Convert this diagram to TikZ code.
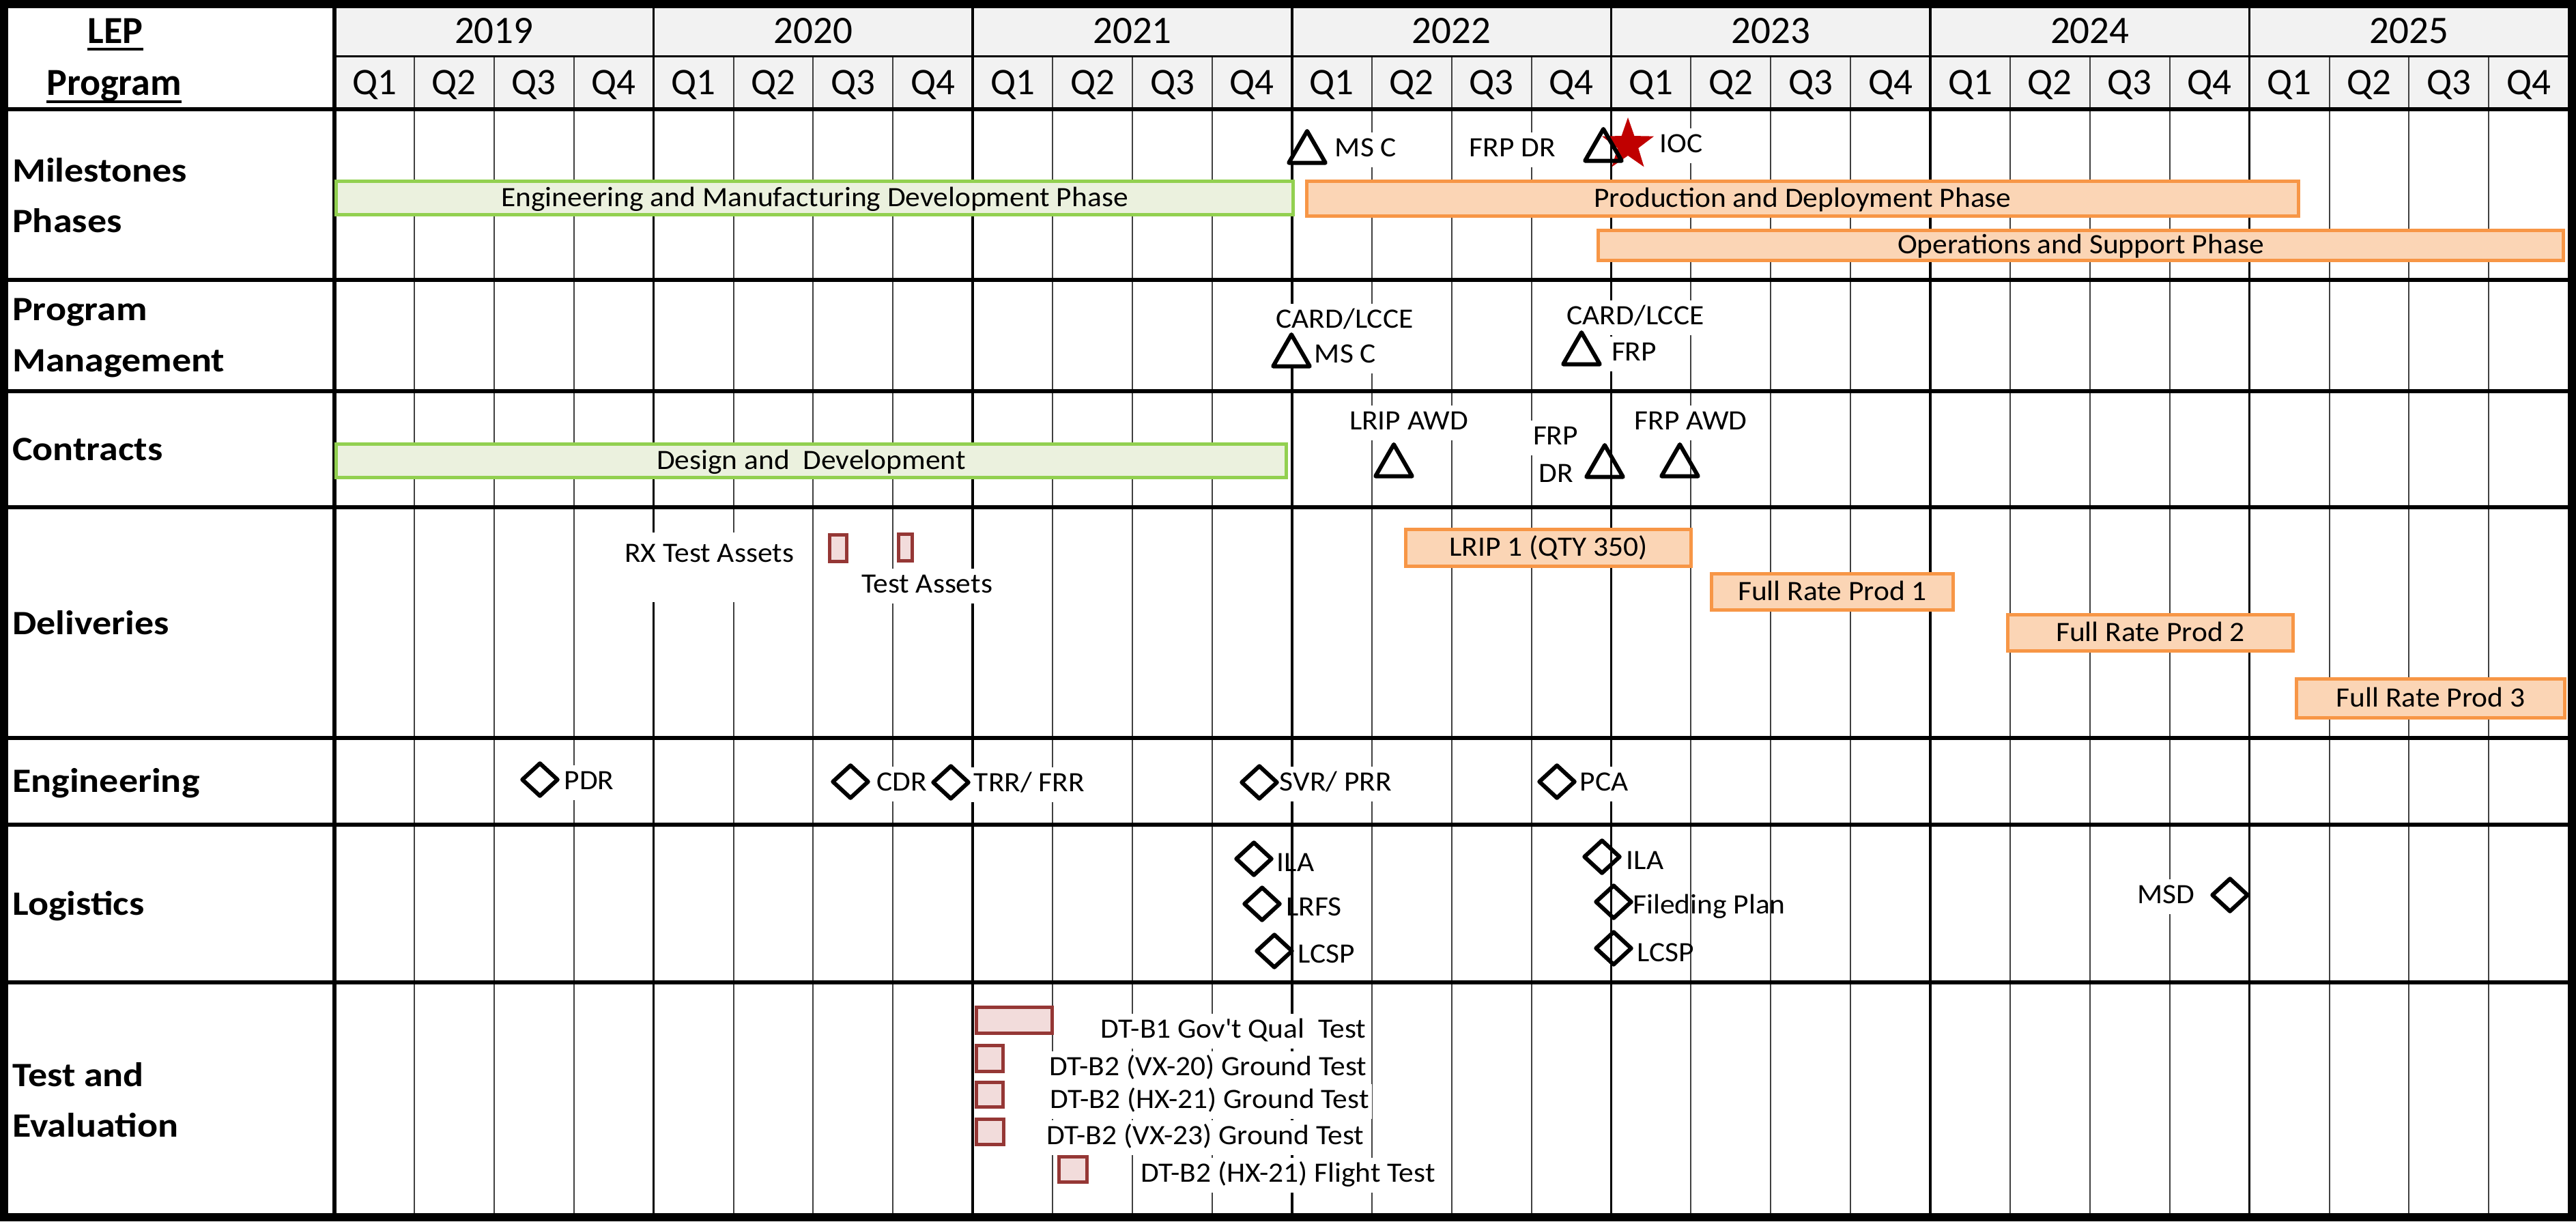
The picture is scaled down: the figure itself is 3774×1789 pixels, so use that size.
\documentclass[tikz,border=0pt]{standalone}
\usepackage{fontspec}
\setmainfont{Carlito}
\newfontfamily\lblfont{Carlito}[FakeStretch=1.06]
\newfontfamily\rowfont{Carlito}[FakeStretch=1.12]
\usetikzlibrary{shapes.geometric}
\definecolor{hdrgray}{HTML}{F2F2F2}
\definecolor{grnline}{HTML}{92D050}
\definecolor{grnfill}{HTML}{EBF1DE}
\definecolor{orgline}{HTML}{F79646}
\definecolor{orgfill}{HTML}{FBD5B5}
\definecolor{redline}{HTML}{953735}
\definecolor{redfill}{HTML}{F2DCDB}
\definecolor{starred}{HTML}{C00000}
\definecolor{qgray}{HTML}{404040}
\begin{document}
\begin{tikzpicture}[x=1pt,y=-1pt,
  lbl/.style={anchor=base, fill=white, inner xsep=4pt, inner ysep=6pt, text height=29pt, text depth=10pt, font=\lblfont\fontsize{41}{49}\selectfont},
  lbltr/.style={lbl, fill=none},
  barbox/.style={draw, line width=5pt, inner sep=0pt, text height=34pt, text depth=10pt, font=\lblfont\fontsize{41}{49}\selectfont},
  gbar/.style={barbox, draw=grnline, fill=grnfill},
  obar/.style={barbox, draw=orgline, fill=orgfill},
  rbox/.style={draw=redline, fill=redfill, line width=5pt, inner sep=0pt},
  tri/.style={regular polygon, regular polygon sides=3, draw, line width=6pt, minimum size=62pt, inner sep=0pt, line join=round},
  trif/.style={tri, fill=white},
  dia/.style={diamond, draw, line width=6pt, minimum width=54pt, minimum height=50pt, inner sep=0pt, line join=round},
  rowlbl/.style={anchor=base west, inner sep=0pt, font=\rowfont\bfseries\fontsize{50}{60}\selectfont},
  hdrlbl/.style={anchor=base, inner sep=0pt, font=\bfseries\fontsize{56}{60}\selectfont},
  yrlbl/.style={anchor=base, inner sep=0pt, font=\fontsize{57}{60}\selectfont},
  qlbl/.style={anchor=base, inner sep=0pt, font=\fontsize{55}{60}\selectfont},
  qline/.style={draw=qgray, line width=2pt},
  yline/.style={draw=black, line width=3.5pt},
  divline/.style={draw=black, line width=6pt},
]
\useasboundingbox (0,0) rectangle (3774,1789);
\fill[white] (0,0) rectangle (3774,1789);
% header fill
\fill[hdrgray] (490,12) rectangle (3763,157);
% grid
\foreach \q in {1,...,27} \draw[qline] ({490+\q*116.9},82) -- ({490+\q*116.9},1783);
\foreach \q in {4,8,...,24} \draw[yline] ({490+\q*116.9},12) -- ({490+\q*116.9},1783);
\draw[line width=3pt] (490,82) -- (3763,82);
\foreach \yy in {160,410,573,743,1081,1208,1439} \draw[divline] (6,\yy) -- (3768,\yy);
\draw[line width=6pt] (490,6) -- (490,1783);

% header texts
\node[hdrlbl] (lep) at (169,63) {LEP};
\node[hdrlbl] (prog) at (167,139) {Program};
\draw[line width=4pt] ([yshift=-9pt]lep.base west) -- ([yshift=-9pt]lep.base east);
\draw[line width=4pt] ([yshift=-10pt]prog.base west) -- ([yshift=-10pt]prog.base east);
\foreach \yr [count=\i from 0] in {2019,2020,2021,2022,2023,2024,2025}
  \node[yrlbl] (yr\yr) at ({490+(4*\i+2)*116.9},63) {\yr};
\foreach \q in {0,...,27}{
  \pgfmathtruncatemacro{\qn}{mod(\q,4)+1}
  \node[qlbl] (q\q) at ({490+(\q+0.5)*116.9},138) {Q\qn};
}

% row labels
\node[rowlbl] (r1a) at (18,266) {Milestones};
\node[rowlbl] (r1b) at (18,340) {Phases};
\node[rowlbl] (r2a) at (18,469) {Program};
\node[rowlbl] (r2b) at (18,544) {Management};
\node[rowlbl] (r3) at (18,674) {Contracts};
\node[rowlbl] (r4) at (18,929) {Deliveries};
\node[rowlbl] (r5) at (18,1160) {Engineering};
\node[rowlbl] (r6) at (18,1340) {Logistics};
\node[rowlbl] (r7a) at (18,1591) {Test and};
\node[rowlbl] (r7b) at (18,1665) {Evaluation};

% bars
\node[gbar, minimum width=1402pt, minimum height=49pt] (emd) at (1193.5,290) {Engineering and Manufacturing Development Phase};
\node[obar, minimum width=1453pt, minimum height=51pt] (pd) at (2641,291) {Production and Deployment Phase};
\node[obar, minimum width=1414pt, minimum height=44pt] (os) at (3048.5,359.5) {Operations and Support Phase};
\node[gbar, minimum width=1392pt, minimum height=49pt] (dd) at (1188.5,675) {Design and\ \ Development};
\node[obar, minimum width=418pt, minimum height=54pt] (lrip1) at (2268.5,802.5) {LRIP 1 (QTY 350)};
\node[obar, minimum width=354pt, minimum height=53pt] (frp1) at (2684.5,867) {Full Rate Prod 1};
\node[obar, minimum width=418pt, minimum height=53pt] (frp2) at (3150.5,927) {Full Rate Prod 2};
\node[obar, minimum width=393pt, minimum height=57pt] (frp3) at (3561,1023) {Full Rate Prod 3};

% labels
\node[lbl] (msc1) at (2001,229) {MS C};
\node[lbl] (frpdr1) at (2216,229) {FRP DR};
\node[lbl] (ioc) at (2463,223) {IOC};
\node[lbl] (card1) at (1970,480) {CARD/LCCE};
\node[lbl] (msc2) at (1971,531) {MS C};
\node[lbl] (card2) at (2396,475) {CARD/LCCE};
\node[lbl] (frpb) at (2394,528) {FRP};
\node[lbl] (lripawd) at (2064,629) {LRIP AWD};
\node[lbl] (frpdra) at (2279,651) {FRP};
\node[lbl] (frpdrb) at (2280,706) {DR};
\node[lbl] (frpawd) at (2477,629) {FRP AWD};
\node[lbl, text height=37pt, text depth=53pt] (rxta) at (1039,823) {RX Test Assets};
\node[lbl] (ta) at (1358,868) {Test Assets};
\node[lbl] (pdr) at (863,1156) {PDR};
\node[lbl] (cdr) at (1321,1158) {CDR};
\node[lbl] (trr) at (1508,1159) {TRR/ FRR};
\node[lbl] (svr) at (1957,1158) {SVR/ PRR};
\node[lbl] (pca) at (2350,1158) {PCA};
\node[lbltr] (ila1) at (1898,1276) {ILA};
\node[lbltr] (lrfs) at (1925,1341) {LRFS};
\node[lbltr] (lcsp1) at (1943,1410) {LCSP};
\node[lbltr] (ila2) at (2410,1273) {ILA};
\node[lbltr] (filed) at (2504,1338) {Fileding Plan};
\node[lbltr] (lcsp2) at (2440,1408) {LCSP};
\node[lbl] (msd) at (3173,1323) {MSD};
\node[lbl] (dtb1) at (1807,1520) {DT-B1 Gov\textquotesingle t Qual\ \ Test};
\node[lbl] (vx20) at (1770,1575) {DT-B2 (VX-20) Ground Test};
\node[lbl] (hx21) at (1772,1623) {DT-B2 (HX-21) Ground Test};
\node[lbl] (vx23) at (1766,1676) {DT-B2 (VX-23) Ground Test};
\node[lbl] (flt) at (1887,1731) {DT-B2 (HX-21) Flight Test};

% red boxes
\node[rbox, minimum width=25pt, minimum height=39pt] (rxb1) at (1228,803) {};
\node[rbox, minimum width=20pt, minimum height=39pt] (rxb2) at (1326.5,802) {};
\node[rbox, minimum width=111pt, minimum height=38pt] (bdtb1) at (1486,1494.5) {};
\node[rbox, minimum width=39pt, minimum height=38pt] (bvx20) at (1450,1550.5) {};
\node[rbox, minimum width=39pt, minimum height=36pt] (bhx21) at (1450,1603.5) {};
\node[rbox, minimum width=40pt, minimum height=37pt] (bvx23) at (1450.5,1658) {};
\node[rbox, minimum width=41pt, minimum height=37pt] (bflt) at (1572,1713) {};

% star and triangles
\node[star, star points=5, star point ratio=2.5, fill=starred, minimum size=80pt, inner sep=0pt] (iocstar) at (2385,212) {};
\node[trif] (t1) at (1915,223) {};
\node[tri] (t2) at (2349,220) {};
\node[trif] (t3) at (1892,521) {};
\node[trif] (t4) at (2317,518) {};
\node[tri] (t5) at (2042,682) {};
\node[tri] (t6) at (2351,683) {};
\node[tri] (t7) at (2461,682) {};

% diamonds
\node[dia] (dpdr) at (791,1142) {};
\node[dia] (dcdr) at (1246,1145) {};
\node[dia] (dtrr) at (1393,1146) {};
\node[dia] (dsvr) at (1845,1146) {};
\node[dia] (dpca) at (2281,1145) {};
\node[dia] (dila1) at (1837,1258) {};
\node[dia] (dlrfs) at (1849,1324) {};
\node[dia] (dlcsp1) at (1867,1393) {};
\node[dia] (dila2) at (2347,1255) {};
\node[dia] (dfiled) at (2364,1321) {};
\node[dia] (dlcsp2) at (2364,1389) {};
\node[dia] (dmsd) at (3267,1311) {};

% outer border
\draw[line width=12pt] (6,6) rectangle (3768,1783);
\end{tikzpicture}
\end{document}
